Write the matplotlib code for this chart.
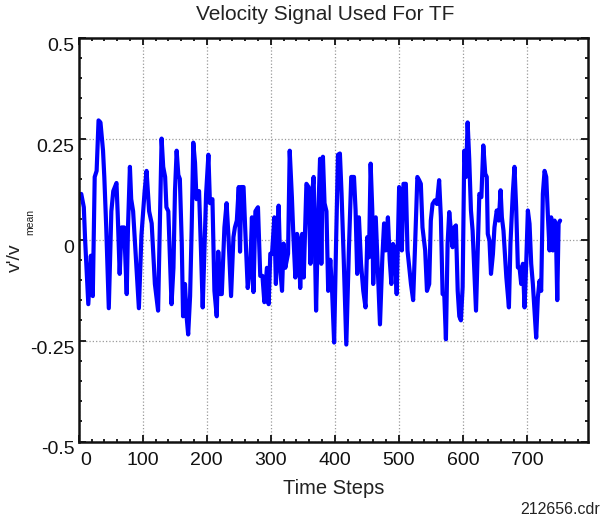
import matplotlib
matplotlib.use("Agg")
import matplotlib.pyplot as plt
from matplotlib.ticker import MultipleLocator
import matplotlib.transforms as mtransforms

plt.rcParams['font.family'] = ['Liberation Sans', 'DejaVu Sans']

# Normalised velocity fluctuation v'/v_mean sampled at its turning points
time_steps = [
    0, 4, 8, 10, 15, 19, 22, 25, 28, 31, 34, 38, 40, 43, 47, 51, 54, 59, 61, 64,
    67, 71, 75, 77, 80, 82, 85, 89, 94, 98, 103, 106, 110, 114, 119, 124,
    129.5, 132, 135, 137, 140, 142.6, 145, 148, 150.4, 153, 155.6, 158, 161, 163,
    166, 168.5, 171, 174, 176.5, 179, 181.7, 184, 188, 191, 193.7, 197, 199, 202.6,
    205, 208.9, 212, 215.6, 218, 221, 223.5, 227.6, 231, 234, 238, 241.7, 244, 247,
    250, 252, 254, 257.5, 260, 264, 268, 270.6, 273, 276, 280, 283.6, 287, 290,
    294, 296.7, 299.3, 302, 305.6, 308, 312.3, 315, 317.6, 320, 322.7, 327, 329.6,
    333, 335, 338.4, 341, 343.6, 346, 349, 351.5, 355.7, 359, 362, 364.5, 367,
    370.8, 374, 377, 379, 381.5, 384, 387, 389.7, 393, 396, 399, 402, 405, 408,
    410.6, 414, 418, 422, 425.7, 430, 432.5, 435, 437.7, 441, 444.5, 448, 450.8,
    453.4, 456, 458.6, 460, 464, 466.5, 470.6, 474.3, 477, 479.5, 483, 485.8,
    488.4, 491, 494, 496.7, 500.5, 503, 504.7, 507.3, 511, 513.6, 519, 522.4,
    525.5, 529, 531.8, 534.4, 537, 541.2, 544, 547.5, 550, 552.7, 556.3, 559.5,
    563, 565.7, 568.4, 571, 573.6, 576.2, 578.8, 581.4, 584, 586.6, 589.2, 592,
    594.5, 597, 599.7, 602.3, 605, 607.5, 610, 612.7, 615.3, 618, 620.6, 623.2,
    625.8, 629, 632, 635, 637.4, 639, 641.6, 644, 647, 649.4, 653, 656.2, 659,
    661, 663.5, 668, 672, 674.4, 678, 680.7, 683.3, 686, 688.6, 691.2, 693.8,
    696.4, 699, 701.6, 704.2, 706.8, 709.4, 712, 714.6, 717.2, 719.8, 722.4, 725,
    727.7, 730.3, 733, 735.5, 738, 740.7, 743.3, 746, 747.5, 749.6, 752,
]
velocity = [
    0.11, 0.113, 0.08, 0.0, -0.16, -0.04, -0.14, 0.155, 0.17, 0.295, 0.29, 0.22,
    0.155, 0.03, -0.17, 0.07, 0.12, 0.14, 0.06, -0.085, 0.03, 0.03, -0.135, 0.03,
    0.18, 0.10, 0.07, -0.035, -0.17, 0.01, 0.12, 0.17, 0.07, 0.04, -0.11, -0.176,
    0.25, 0.18, 0.155, 0.08, 0.07, -0.05, -0.16, -0.07, 0.12, 0.22, 0.16, 0.15,
    -0.01, -0.19, -0.11, -0.19, -0.235, -0.14, 0.03, 0.24, 0.19, 0.10, 0.12,
    -0.027, -0.168, 0.006, 0.113, 0.21, 0.09, 0.10, -0.127, -0.19, -0.03, -0.135,
    -0.135, 0.03, 0.09, 0.006, -0.14, 0.006, 0.03, 0.047, 0.13, -0.03, 0.13, 0.13,
    0.03, -0.12, -0.07, 0.055, -0.13, 0.07, 0.08, -0.09, -0.09, -0.155, -0.07,
    -0.16, -0.035, -0.035, 0.055, -0.11, 0.084, -0.077, -0.127, -0.01, -0.07,
    -0.035, 0.22, 0.105, 0.022, -0.094, 0.014, -0.002, -0.12, 0.014, -0.094,
    0.138, 0.13, -0.06, 0.113, 0.155, -0.176, 0.055, 0.2, -0.06, 0.205, 0.09,
    0.07, -0.127, -0.05, -0.135, -0.255, -0.01, 0.21, 0.213, 0.113, -0.05, -0.26,
    -0.027, 0.155, 0.155, 0.072, -0.085, 0.055, -0.06, -0.127, -0.168, 0.006,
    -0.044, 0.188, 0.072, -0.11, 0.055, -0.044, -0.21, -0.044, 0.04, -0.027,
    0.055, -0.05, -0.11, -0.011, -0.027, -0.135, 0.13, 0.07, -0.027, 0.138, 0.138,
    -0.027, -0.11, -0.15, -0.011, 0.155, 0.147, 0.138, 0.03, -0.027, -0.127,
    -0.11, 0.047, 0.088, 0.097, 0.088, 0.147, 0.055, -0.135, -0.135, -0.247,
    -0.011, 0.068, 0.022, -0.019, 0.03, 0.035, -0.127, -0.19, -0.2, -0.118, 0.22,
    0.155, 0.29, 0.2, 0.072, 0.022, -0.077, -0.176, -0.027, 0.113, 0.105, 0.233,
    0.163, 0.155, 0.014, -0.002, -0.085, -0.036, 0.03, 0.072, 0.047, 0.122, 0.055,
    0.022, -0.094, -0.168, -0.01, 0.113, 0.18, 0.08, -0.069, -0.069, -0.11, -0.06,
    -0.168, -0.06, 0.072, 0.039, -0.06, -0.11, -0.176, -0.243, -0.143, -0.102,
    -0.127, 0.113, 0.17, 0.155, 0.055, -0.027, 0.055, -0.027, 0.047, -0.027,
    -0.15, 0.04, 0.047,
]

x_ticks = [0, 100, 200, 300, 400, 500, 600, 700]
y_ticks = [-0.5, -0.25, 0, 0.25, 0.5]
y_tick_labels = ['-0.5', '-0.25', '0', '0.25', '0.5']

W, H = 601, 518
fig = plt.figure(figsize=(W / 100, H / 100), dpi=100)
ax = fig.add_axes([78.7 / W, 1 - 441.5 / H, (588.3 - 78.7) / W, (441.5 - 37.6) / H])

ax.plot(time_steps, velocity, color='#0000ff', linewidth=3.0,
        solid_joinstyle='round', solid_capstyle='round')

ax.set_xlim(0, 796)
ax.set_ylim(-0.5, 0.5)
ax.set_xticks(x_ticks)
ax.set_yticks(y_ticks)
ax.set_yticklabels(y_tick_labels)
ax.xaxis.set_minor_locator(MultipleLocator(20))
ax.yaxis.set_minor_locator(MultipleLocator(0.05))
ax.tick_params(which='both', direction='in', top=True, right=True, labelsize=14,
               width=1.3, colors='#111111')
ax.tick_params(which='major', length=5)
ax.tick_params(which='minor', length=2.5)
ax.tick_params(axis='x', which='major', pad=7.5)
ax.tick_params(axis='y', which='major', pad=3)
ax.grid(True, which='major', color='#9a9a9a', linestyle=':', linewidth=0.9)
for spine in ax.spines.values():
    spine.set_linewidth(1.8)
    spine.set_color('#111111')

# value labels hang just below their ticks
for lbl in ax.get_yticklabels():
    lbl.set_verticalalignment('top')

# nudge the "0" on the time axis away from the corner
lbl0 = ax.get_xticklabels()[0]
lbl0.set_transform(lbl0.get_transform()
                   + mtransforms.ScaledTranslation(7 / 100, 0, fig.dpi_scale_trans))

fig.text(325 / W, 1 - 20 / H, 'Velocity Signal Used For TF', fontsize=15,
         ha='center', va='baseline', color='#222222')
fig.text(333.5 / W, 1 - 494 / H, 'Time Steps', fontsize=14.5,
         ha='center', va='baseline', color='#222222')

# y-axis label: v'/v with a small, low "mean" subscript
fig.text(20 / W, 1 - 272 / H, "v'/v", fontsize=14, rotation=90,
         rotation_mode='anchor', ha='left', va='baseline', color='#222222')
fig.text(33 / W, 1 - 235 / H, 'mean', fontsize=7.5, rotation=90,
         rotation_mode='anchor', ha='left', va='baseline', color='#222222')

fig.text(600 / W, 1 - 514 / H, '212656.cdr', fontsize=11.5,
         ha='right', va='baseline', color='#222222')

fig.savefig('out.png', dpi=100)
